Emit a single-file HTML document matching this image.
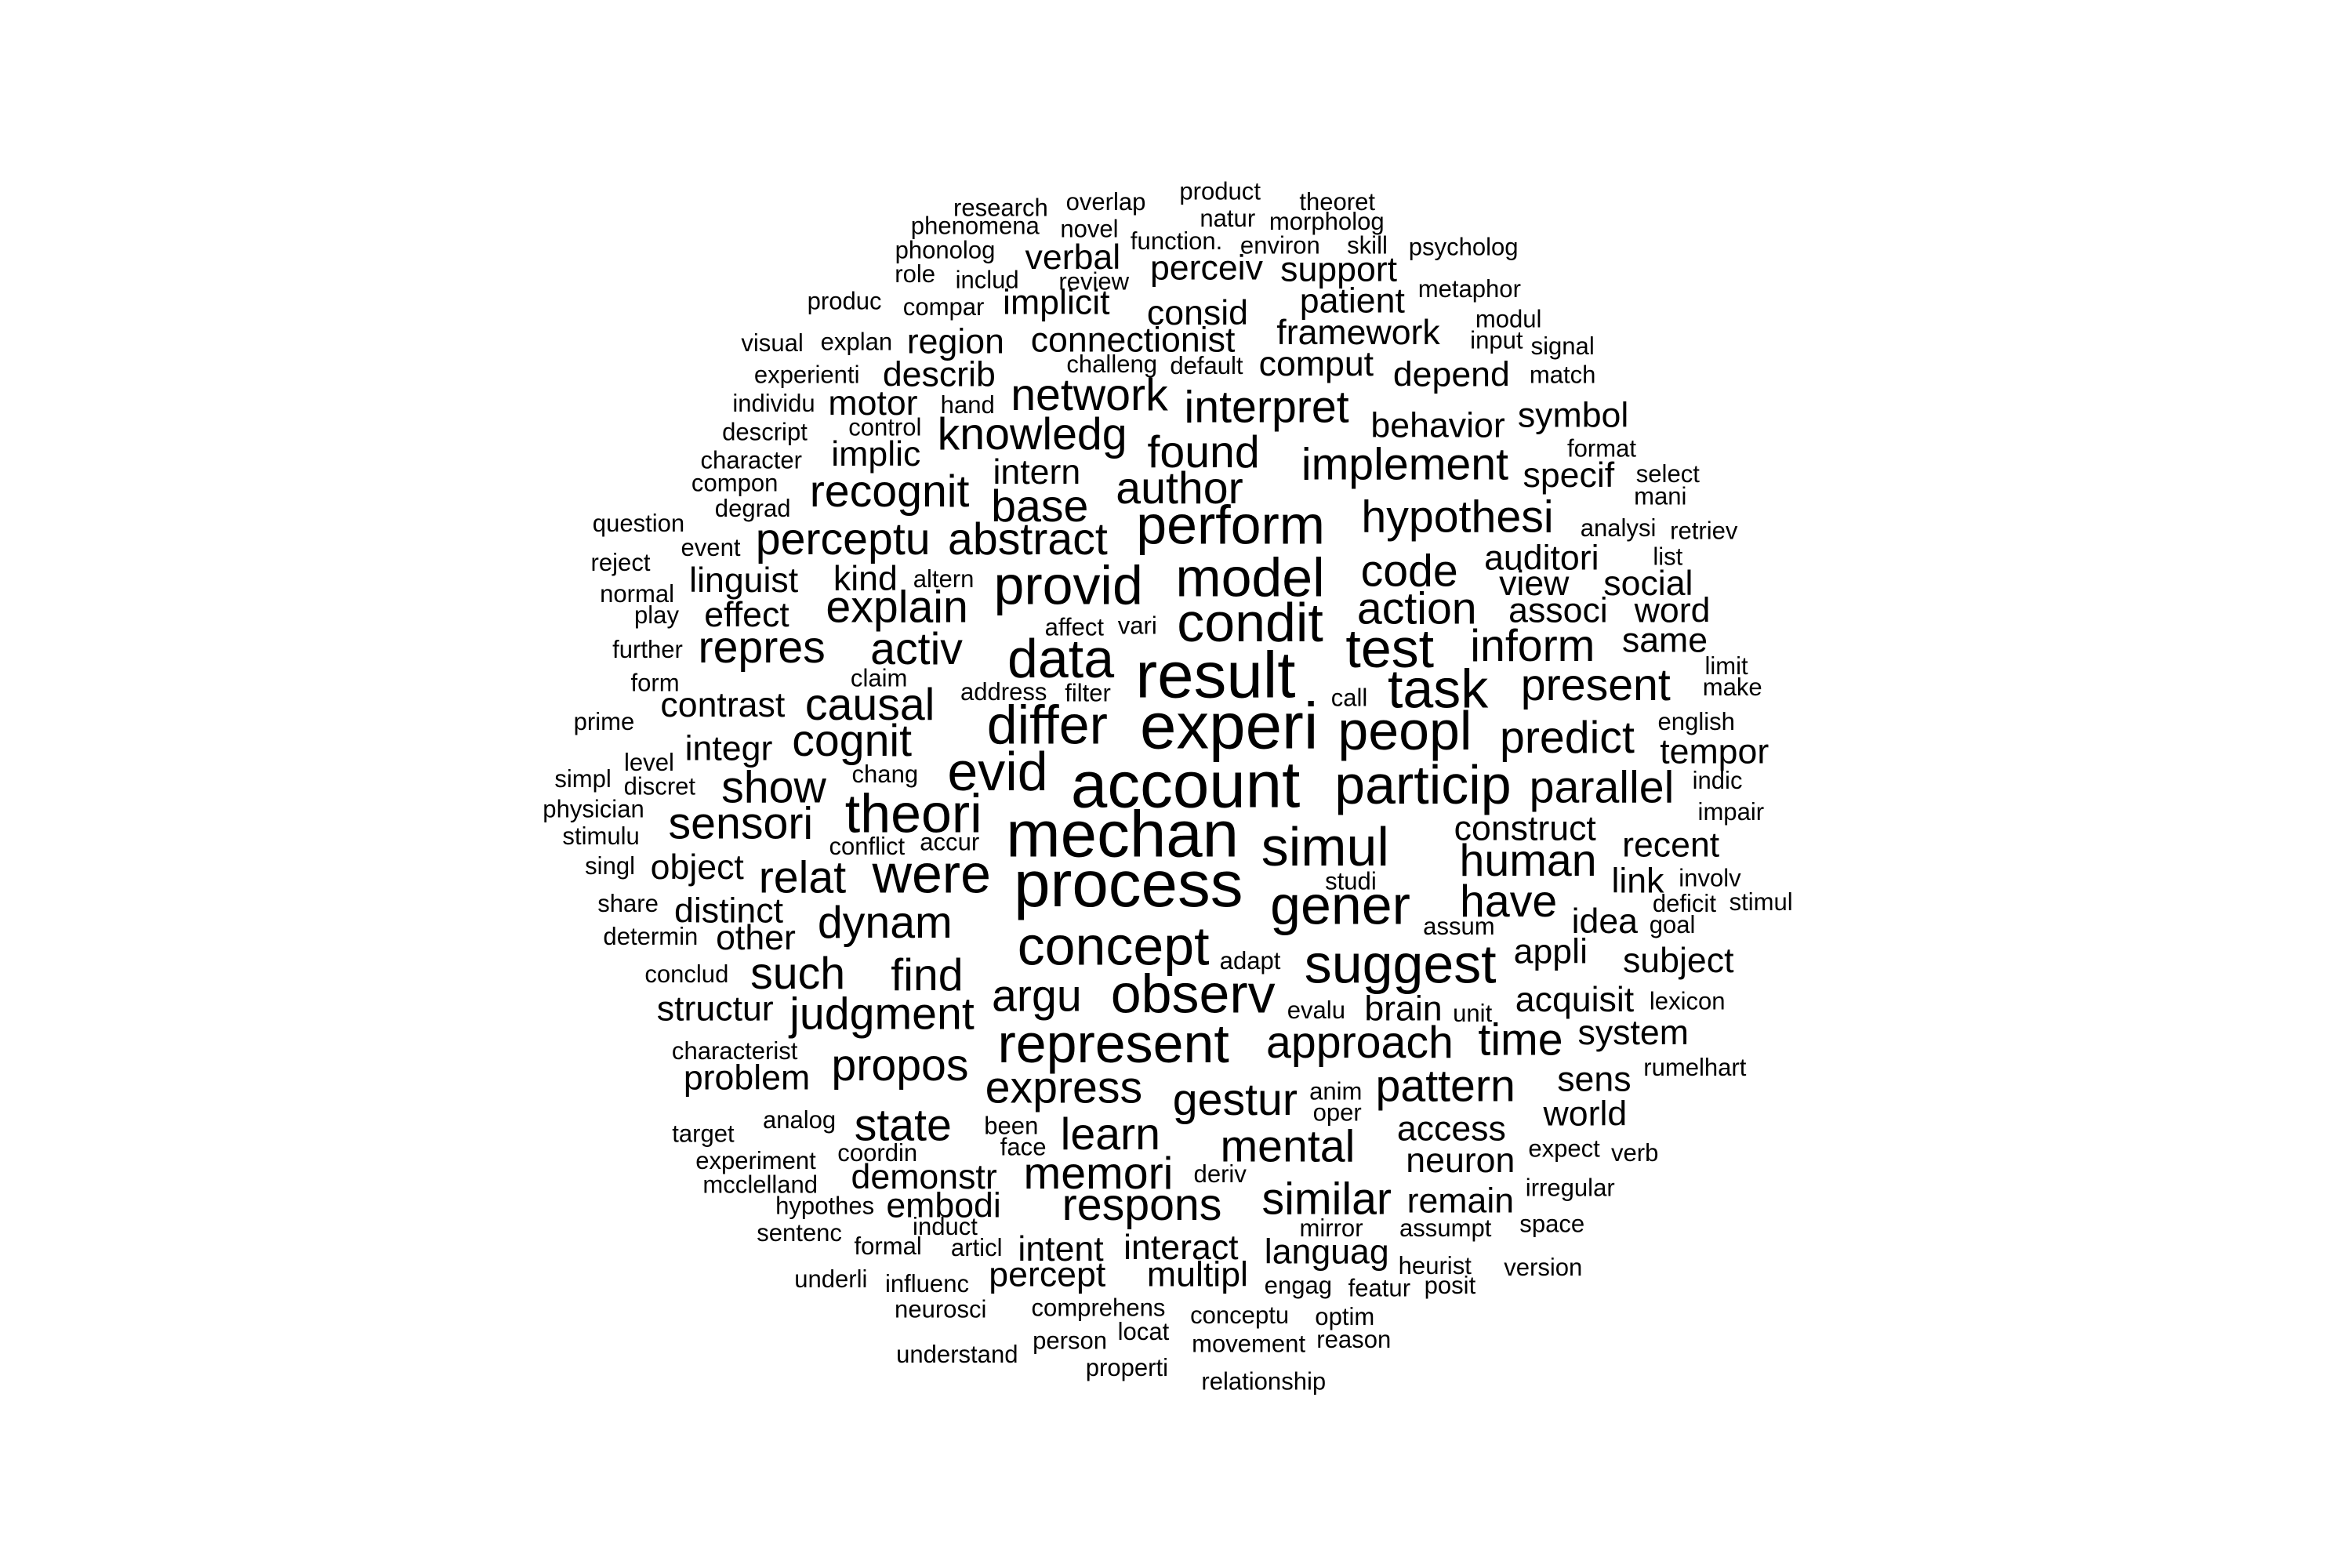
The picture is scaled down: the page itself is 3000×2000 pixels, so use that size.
<!DOCTYPE html>
<html><head><meta charset="utf-8"><style>
html,body{margin:0;padding:0;background:#fff;}
svg{display:block;}
text{font-family:"Liberation Sans",Arial,sans-serif;fill:#000;}
</style></head>
<body>
<svg id="cloud" width="3000" height="2000" viewBox="0 0 1545 1030" xmlns="http://www.w3.org/2000/svg">
<rect width="1545" height="1030" fill="#fff"/>
</svg>
<script>
const raw = `research,666,139,1|overlap,736,135,1|product,812,128,1|theoret,890,135,1|phenomena,649,151,1|novel,725,153,1|natur,817,146,1|morpholog,883,148,1|phonolog,629,167,1|function.,783,161,1|environ,852,164,1|skill,910,164,1|psycholog,974,165,1|verbal,714,172,2|role,609,183,1|includ,657,187,1|review,728,188,1|perceiv,803,179,2|support,891,180,2|produc,562,201,1|compar,628,205,1|implicit,703,202,2|patient,900,201,2|metaphor,978,193,1|consid,797,209,2|modul,1004,213,1|visual,514,229,1|explan,570,228,1|region,636,228,2|connectionist,754,227,2|framework,904,222,2|input,996,227,1|signal,1040,231,1|experienti,537,250,1|describ,625,250,2|challeng,740,243,1|default,803,244,1|comput,876,243,2|depend,966,250,2|match,1040,250,1|individu,515,269,1|motor,581,269,2|hand,644,270,1|network,725,264,3|interpret,843,272,3|behavior,957,284,2|symbol,1047,277,2|descript,509,288,1|control,589,285,1|knowledg,687,290,3|found,801,302,3|format,1066,299,1|character,500,307,1|implic,583,303,2|implement,935,310,3|specif,1044,317,2|select,1110,316,1|compon,489,322,1|intern,690,315,2|mani,1105,331,1|recognit,592,328,3|author,785,326,3|degrad,501,339,1|base,692,338,3|question,425,349,1|hypothesi,970,345,3|perform,819,351,4|analysi,1077,352,1|retriev,1134,354,1|event,473,365,1|perceptu,561,360,3|abstract,684,360,3|auditori,1026,372,2|reject,413,375,1|list,1110,371,1|linguist,495,387,2|kind,576,386,2|altern,628,386,1|provid,711,391,4|model,832,386,4|code,938,381,3|view,1021,389,2|social,1097,389,2|normal,424,396,1|play,437,410,1|effect,497,410,2|explain,597,405,3|associ,1037,407,2|word,1113,407,2|action,943,406,3|condit,832,416,4|affect,715,418,1|vari,757,417,1|further,431,433,1|repres,507,432,3|activ,610,433,3|data,706,440,4|test,925,433,4|inform,1020,431,3|same,1108,427,2|limit,1149,444,1|claim,585,452,1|result,809,451,5|make,1153,458,1|form,436,455,1|address,668,461,1|filter,724,462,1|call,898,465,1|task,957,460,4|present,1062,457,3|contrast,481,470,2|causal,579,470,3|prime,402,481,1|experi,818,485,5|differ,697,484,4|peopl,935,488,4|predict,1043,492,3|english,1129,481,1|cognit,567,494,3|integr,485,499,2|tempor,1141,501,2|level,432,508,1|simpl,388,519,1|discret,439,524,1|chang,589,516,1|evid,664,515,4|account,789,524,5|particip,947,524,4|parallel,1066,525,3|show,515,525,3|indic,1143,520,1|physician,395,539,1|theori,608,543,4|impair,1152,541,1|sensori,493,549,3|construct,1015,552,2|mechan,747,557,5|simul,882,565,4|stimulu,400,557,1|conflict,577,564,1|accur,632,561,1|recent,1112,563,2|human,1017,574,3|singl,406,577,1|object,464,578,2|relat,534,585,3|were,620,583,4|process,751,590,5|link,1090,587,2|involv,1138,585,1|studi,899,587,1|share,418,602,1|distinct,485,607,2|dynam,589,615,3|gener,892,604,4|have,1004,601,3|deficit,1121,602,1|stimul,1172,601,1|idea,1068,614,2|assum,971,617,1|goal,1113,616,1|determin,433,624,1|other,503,625,2|concept,741,631,4|adapt,832,640,1|appli,1032,634,2|suggest,932,643,4|subject,1117,640,2|conclud,457,649,1|such,531,649,3|find,617,650,3|argu,690,664,3|observ,794,663,4|evalu,876,673,1|brain,934,672,2|unit,980,675,1|acquisit,1048,666,2|lexicon,1123,667,1|structur,476,672,2|judgment,587,676,3|time,1012,693,3|system,1087,688,2|approach,905,695,3|represent,741,696,4|characterist,489,700,1|problem,497,718,2|propos,599,710,3|express,708,725,3|rumelhart,1128,711,1|sens,1061,719,2|anim,889,727,1|pattern,962,724,3|gestur,822,733,3|oper,890,741,1|analog,532,746,1|state,601,750,3|been,673,750,1|learn,739,756,3|target,468,755,1|access,966,752,2|world,1055,742,2|face,681,764,1|mental,857,764,3|coordin,584,768,1|neuron,972,773,2|expect,1041,765,1|verb,1088,768,1|experiment,503,773,1|demonstr,615,784,2|memori,731,782,3|deriv,812,782,1|mcclelland,506,789,1|irregular,1045,791,1|hypothes,549,803,1|embodi,628,803,2|respons,760,803,3|similar,883,799,3|remain,972,800,2|induct,629,817,1|sentenc,532,821,1|mirror,886,818,1|assumpt,962,818,1|space,1033,815,1|formal,591,830,1|articl,650,831,1|intent,706,832,2|interact,786,831,2|languag,883,834,2|heurist,955,843,1|version,1027,844,1|underli,553,852,1|influenc,617,855,1|percept,697,849,2|multipl,797,849,2|engag,864,856,1|featur,918,858,1|posit,965,856,1|neurosci,626,872,1|comprehens,731,871,1|conceptu,825,876,1|optim,895,877,1|locat,761,887,1|person,712,893,1|movement,831,895,1|reason,901,892,1|understand,637,902,1|properti,750,911,1|relationship,841,920,1`;
const entries = raw.split('|').map(s => s.split(','));
const words = entries.map(e => e[0]);
const freqTier = entries.map(e => +e[3]);
const layoutX = entries.map(e => +e[1]);
const layoutY = entries.map(e => +e[2]);
const tierSizes = [0, 16, 23, 29.5, 36, 43];
const posScale = 0.987;
const svg = document.getElementById('cloud');
const NS = 'http://www.w3.org/2000/svg';
words.forEach((w, i) => {
  const t = document.createElementNS(NS, 'text');
  t.setAttribute('x', layoutX[i] * posScale);
  t.setAttribute('y', layoutY[i] * posScale + tierSizes[freqTier[i]] * 0.3);
  t.setAttribute('text-anchor', 'middle');
  t.setAttribute('font-size', tierSizes[freqTier[i]]);
  t.textContent = w;
  
  
  svg.appendChild(t);
});
</script>
</body></html>
